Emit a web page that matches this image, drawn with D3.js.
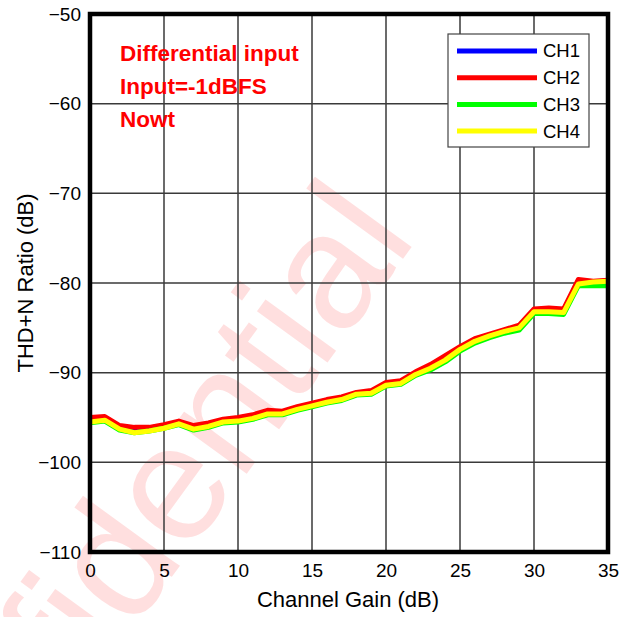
<!DOCTYPE html>
<html>
<head>
<meta charset="utf-8">
<script src="https://cdn.jsdelivr.net/npm/d3@7/dist/d3.min.js"></script>
<style>
  html, body { margin: 0; padding: 0; background: #fff; }
  svg { display: block; }
</style>
</head>
<body>
<script>
const gains = d3.range(0, 36);
const ch1 = [-95.1,-95.0,-96.0,-96.2,-96.2,-95.9,-95.5,-96.0,-95.7,-95.3,-95.1,-94.8,-94.3,-94.4,-93.9,-93.5,-93.1,-92.8,-92.3,-92.1,-91.2,-91.0,-90.0,-89.2,-88.2,-87.2,-86.3,-85.8,-85.3,-84.9,-83.1,-83.0,-83.1,-79.8,-79.9,-79.8];
const ch2 = [-95.0,-94.9,-95.9,-96.1,-96.1,-95.8,-95.4,-95.9,-95.6,-95.2,-95.0,-94.7,-94.2,-94.3,-93.8,-93.4,-93.0,-92.7,-92.2,-92.0,-91.1,-90.9,-89.9,-89.1,-88.1,-87.1,-86.2,-85.7,-85.2,-84.7,-82.9,-82.8,-82.9,-79.6,-79.8,-79.7];
const ch3 = [-95.6,-95.4,-96.4,-96.7,-96.5,-96.2,-95.8,-96.4,-96.1,-95.6,-95.5,-95.2,-94.7,-94.7,-94.2,-93.8,-93.4,-93.1,-92.5,-92.4,-91.5,-91.3,-90.3,-89.7,-88.8,-87.6,-86.7,-86.1,-85.6,-85.25,-83.4,-83.4,-83.5,-80.3,-80.3,-80.3];
const ch4 = [-95.5,-95.3,-96.3,-96.7,-96.5,-96.2,-95.7,-96.3,-96.0,-95.5,-95.4,-95.1,-94.6,-94.6,-94.1,-93.7,-93.3,-93.0,-92.4,-92.3,-91.4,-91.2,-90.2,-89.5,-88.6,-87.4,-86.5,-85.9,-85.4,-85.0,-83.2,-83.2,-83.3,-80.1,-79.9,-79.8];
const seriesNames = ["CH1","CH2","CH3","CH4"];
const seriesColors = ["#0000ff","#ff0000","#00ff00","#ffff00"];
const xTicks = [0,5,10,15,20,25,30,35];
const yTicks = [-50,-60,-70,-80,-90,-100,-110];
const notes = ["Differential input","Input=-1dBFS","Nowt"];
const seriesData = [ch1, ch2, ch3, ch4];

const W = 636, H = 617;
const m = {left: 90, right: 28, top: 14, bottom: 65};
const svg = d3.select("body").append("svg").attr("width", W).attr("height", H);

const x = d3.scaleLinear().domain([0, 35]).range([m.left, W - m.right]);
const y = d3.scaleLinear().domain([-110, -50]).range([H - m.bottom, m.top]);
const font = "'Liberation Sans', Arial, sans-serif";

// watermark
svg.append("text")
  .attr("transform", "translate(418,238) rotate(-54)")
  .attr("text-anchor", "end")
  .attr("font-family", font)
  .attr("font-size", 165)
  .attr("fill", "#ffdfdf")
  .text("Confidential");

// grid
const grid = svg.append("g").attr("stroke", "#3a3a3a").attr("stroke-width", 1.5);
grid.selectAll("line.v").data(xTicks).join("line")
  .attr("x1", d => x(d)).attr("x2", d => x(d)).attr("y1", y(-50)).attr("y2", y(-110));
grid.selectAll("line.h").data(yTicks).join("line")
  .attr("y1", d => y(d)).attr("y2", d => y(d)).attr("x1", x(0)).attr("x2", x(35));

// axes (labels)
const xAxis = d3.axisBottom(x).tickValues(xTicks).tickSize(0).tickPadding(12);
const gx = svg.append("g").attr("transform", `translate(0,${y(-110)})`).call(xAxis);
gx.select(".domain").remove();
gx.selectAll("text").attr("font-family", font).attr("font-size", 19).attr("fill", "#000");

const yAxis = d3.axisLeft(y).tickValues(yTicks).tickSize(0).tickPadding(9);
const gy = svg.append("g").attr("transform", `translate(${x(0)},0)`).call(yAxis);
gy.select(".domain").remove();
gy.selectAll("text").attr("font-family", font).attr("font-size", 19).attr("fill", "#000");

// lines
const line = d3.line().x((d, i) => x(gains[i])).y(d => y(d));
svg.append("g").selectAll("path").data(seriesData).join("path")
  .attr("d", d => line(d))
  .attr("fill", "none")
  .attr("stroke", (d, i) => seriesColors[i])
  .attr("stroke-width", 5)
  .attr("stroke-linejoin", "round");

// frame
svg.append("rect")
  .attr("x", x(0)).attr("y", y(-50))
  .attr("width", x(35) - x(0)).attr("height", y(-110) - y(-50))
  .attr("fill", "none").attr("stroke", "#000").attr("stroke-width", 4.5);

// notes
svg.append("g").selectAll("text").data(notes).join("text")
  .attr("x", 120).attr("y", (d, i) => 61 + i * 33.2)
  .attr("font-family", font).attr("font-weight", "bold").attr("font-size", 22.5)
  .attr("fill", "#ff0000").text(d => d);

// legend
const lg = svg.append("g");
lg.append("rect").attr("x", 448).attr("y", 34).attr("width", 141).attr("height", 113)
  .attr("fill", "#fff").attr("stroke", "#444").attr("stroke-width", 1.2);
const items = lg.selectAll("g.item").data(seriesNames).join("g")
  .attr("transform", (d, i) => `translate(0,${51 + i * 26.7})`);
items.append("line").attr("x1", 457).attr("x2", 537).attr("y1", 0).attr("y2", 0)
  .attr("stroke", (d, i) => seriesColors[i]).attr("stroke-width", 5);
items.append("text").attr("x", 543).attr("y", 0).attr("dy", "0.35em")
  .attr("font-family", font).attr("font-size", 18.5).attr("fill", "#000").text(d => d);

// axis titles
svg.append("text").attr("x", 348).attr("y", 607).attr("text-anchor", "middle")
  .attr("font-family", font).attr("font-size", 22).attr("fill", "#000").text("Channel Gain (dB)");
svg.append("text").attr("transform", "translate(33,283) rotate(-90)").attr("text-anchor", "middle")
  .attr("font-family", font).attr("font-size", 22).attr("fill", "#000").text("THD+N Ratio (dB)");
</script>
</body>
</html>
